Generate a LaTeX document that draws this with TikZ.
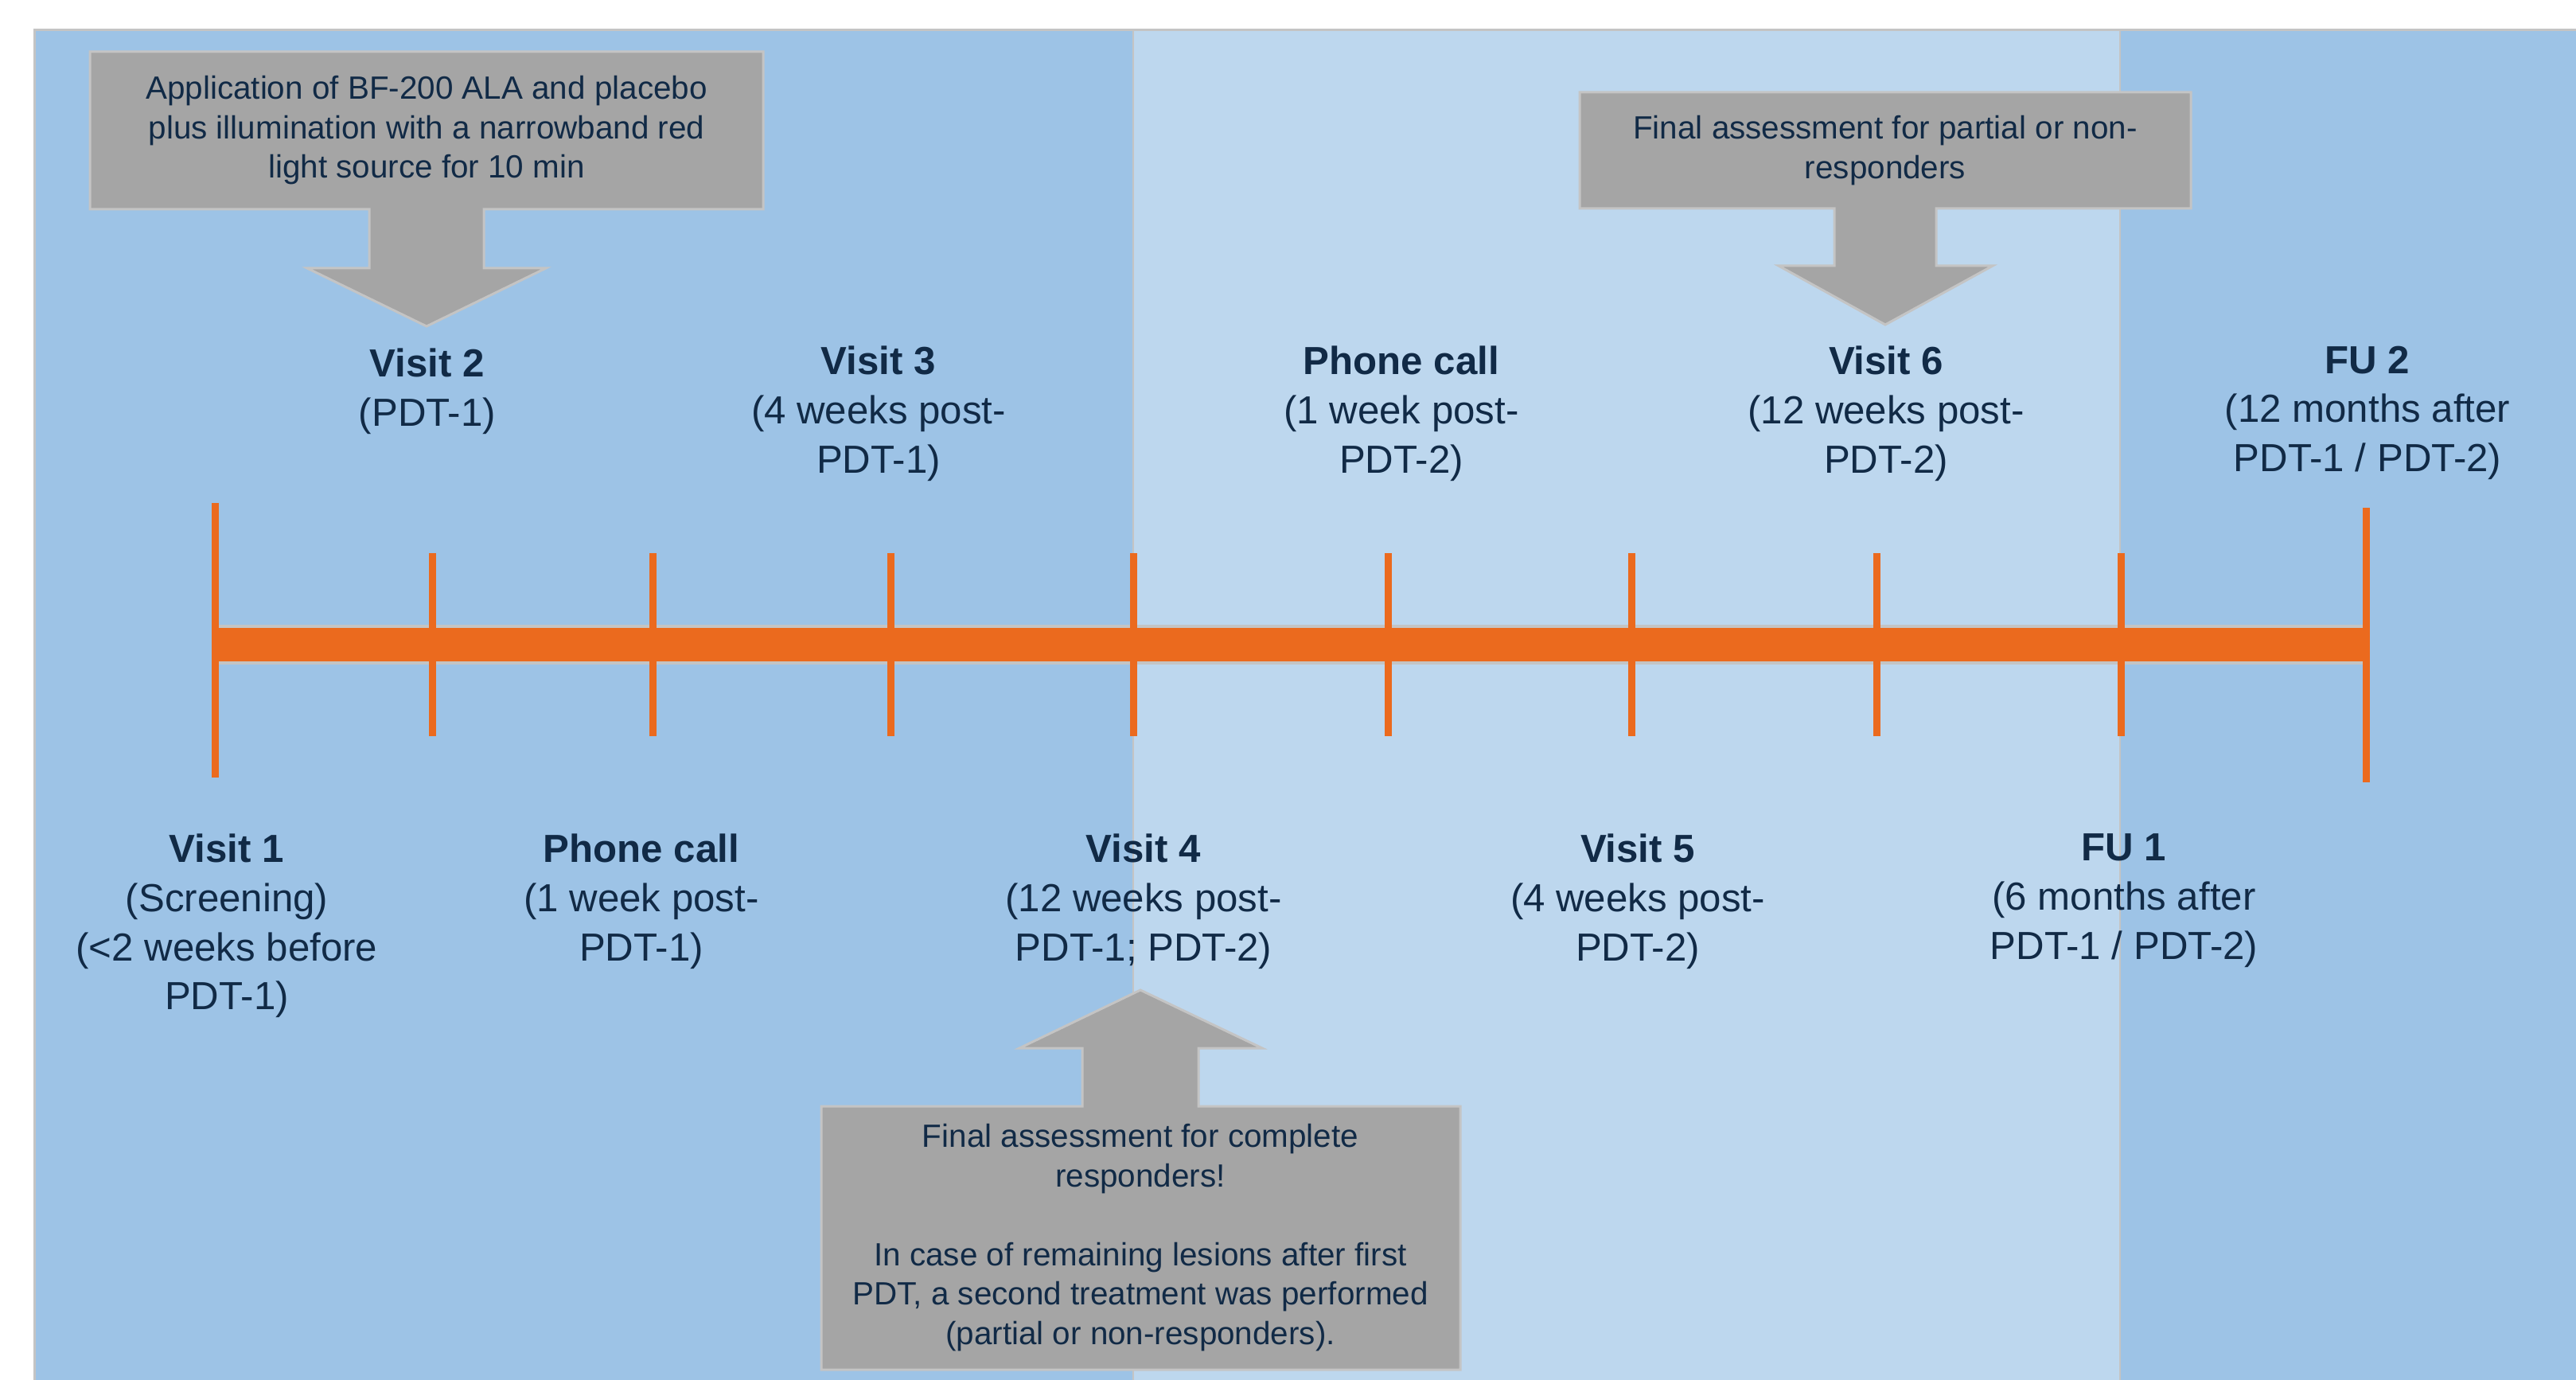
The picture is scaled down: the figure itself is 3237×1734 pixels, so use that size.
\documentclass[tikz,border=0pt]{standalone}
\usepackage{fontspec}
\setmainfont{Liberation Sans}
\usepackage{xcolor}
\usepackage{tikz}

\definecolor{panelblue}{HTML}{9DC3E6}
\definecolor{panellight}{HTML}{BDD7EE}
\definecolor{calloutgray}{HTML}{A5A5A5}
\definecolor{edgegray}{HTML}{C4C4C4}
\definecolor{lineorange}{HTML}{EB6A1E}
\definecolor{textnavy}{HTML}{112A46}

\tikzset{
  visit/.style={align=center, anchor=north, inner sep=0pt, text=textnavy,
    font=\fontsize{14}{17.6}\selectfont},
  note/.style={align=center, inner sep=0pt, text=textnavy,
    font=\fontsize{11.5}{14.1}\selectfont},
  callout/.style={fill=calloutgray, draw=edgegray, line width=0.3mm},
  tickmark/.style={lineorange, line width=0.9mm}
}

\begin{document}
\begin{tikzpicture}[x=0.1mm, y=-0.1mm]
  \useasboundingbox (0,0) rectangle (3237,1734);

  % 背景の領域
  \fill[panelblue] (43,38) rectangle (3237,1734);
  \fill[panellight] (1424,38) rectangle (2664,1734);
  \draw[edgegray, line width=0.3mm] (3237,38) -- (43,38) -- (43,1734);
  \draw[edgegray, line width=0.2mm] (1424,38) -- (1424,1734) (2664,38) -- (2664,1734);

  % タイムライン
  \fill[edgegray] (270,785) rectangle (2970,835);
  \fill[lineorange] (270,789) rectangle (2970,831);
  \foreach \x in {543,820,1119,1424,1744,2050,2358,2665}
    \draw[tickmark] (\x,695) -- (\x,925);
  \draw[tickmark] (270,632) -- (270,977);
  \draw[tickmark] (2973,638) -- (2973,983);

  % 上側のラベル
  \node[visit] (visit2) at (537,437) {\textbf{Visit 2}\\(PDT-1)};
  \node[visit] (visit3) at (1104,434) {\textbf{Visit 3}\\(4 weeks post-\\PDT-1)};
  \node[visit] (phone2) at (1761,434) {\textbf{Phone call}\\(1 week post-\\PDT-2)};
  \node[visit] (visit6) at (2370,434) {\textbf{Visit 6}\\(12 weeks post-\\PDT-2)};
  \node[visit] (fu2) at (2975,434) {\textbf{FU 2}\\(12 months after\\PDT-1 / PDT-2)};

  % 下側のラベル
  \node[visit] (visit1) at (285,1047) {\textbf{Visit 1}\\(Screening)\\(<2 weeks before\\PDT-1)};
  \node[visit] (phone1) at (806,1047) {\textbf{Phone call}\\(1 week post-\\PDT-1)};
  \node[visit] (visit4) at (1437,1047) {\textbf{Visit 4}\\(12 weeks post-\\PDT-1; PDT-2)};
  \node[visit] (visit5) at (2058,1047) {\textbf{Visit 5}\\(4 weeks post-\\PDT-2)};
  \node[visit] (fu1) at (2669,1047) {\textbf{FU 1}\\(6 months after\\PDT-1 / PDT-2)};

  % 吹き出し (矢印付きの箱)
  \draw[callout] (113,65) -- (959,65) -- (959,263) -- (608,263) -- (608,337)
    -- (686,337) -- (536,410) -- (386,337) -- (464,337) -- (464,263)
    -- (113,263) -- cycle;
  \node[note] (apply) at (536,164)
    {Application of BF-200 ALA and placebo\\plus illumination with a narrowband red\\light source for 10 min};

  \draw[callout] (1985,116) -- (2753,116) -- (2753,262) -- (2433,262) -- (2433,334)
    -- (2504,334) -- (2369,408) -- (2235,334) -- (2305,334) -- (2305,262)
    -- (1985,262) -- cycle;
  \node[note] (partial) at (2369,189)
    {Final assessment for partial or non-\\responders};

  \draw[callout] (1032,1721) -- (1835,1721) -- (1835,1390) -- (1506,1390) -- (1506,1317)
    -- (1586,1317) -- (1433,1244) -- (1281,1317) -- (1360,1317) -- (1360,1390)
    -- (1032,1390) -- cycle;
  \node[note] (complete) at (1433,1555)
    {Final assessment for complete\\responders!\\[14.1pt]In case of remaining lesions after first\\PDT, a second treatment was performed\\(partial or non-responders).};
\end{tikzpicture}
\end{document}
